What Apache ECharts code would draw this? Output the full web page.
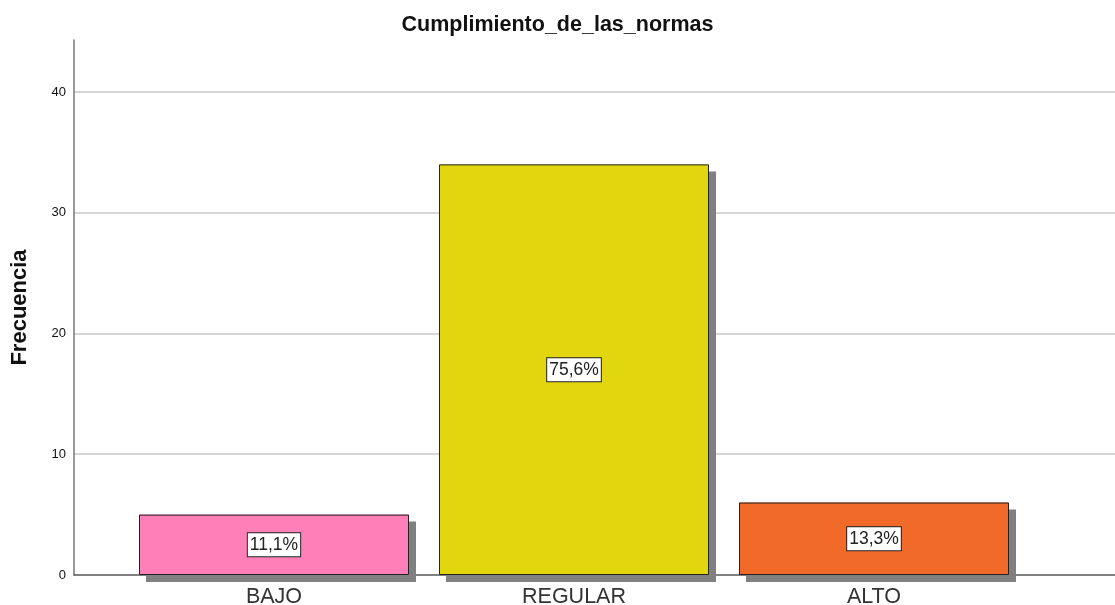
<!DOCTYPE html>
<html>
<head>
<meta charset="utf-8">
<script src="https://cdn.jsdelivr.net/npm/echarts@6/dist/echarts.min.js"></script>
<style>
  html, body { margin: 0; padding: 0; background: #fff; }
  #chart { width: 1115px; height: 605px; }
</style>
</head>
<body>
<div id="chart"></div>
<script>
// categories and values
const categories = ['BAJO', 'REGULAR', 'ALTO']
const frecuencia = [5, 34, 6]
const porcentajes = ['11,1%', '75,6%', '13,3%']
const barColors = ['#ff80b8', '#e2d60e', '#f26a2a']

const font = 'Liberation Sans, Arial'
const yTop = 44.3
const chart = echarts.init(document.getElementById('chart'))

chart.setOption({
  animation: false,
  title: {
    text: 'Cumplimiento_de_las_normas',
    left: 'center',
    top: 9,
    textStyle: { fontFamily: font, fontWeight: 'bold', fontSize: 21.5, color: '#111' }
  },
  grid: [
    // frame: axis lines only
    { left: 74, right: 0, top: 40, bottom: 30, outerBoundsMode: 'none', containLabel: false },
    // gridlines + tick labels, top aligned with value 40
    { left: 74, right: 0, top: 575 - 535 * 40 / yTop, bottom: 30, outerBoundsMode: 'none', containLabel: false },
    // bars
    { left: 124, right: 91, top: 40, bottom: 30, outerBoundsMode: 'none', containLabel: false }
  ],
  xAxis: [{
    gridIndex: 0,
    type: 'value', min: 0, max: 1,
    axisLine: { show: true, onZero: false, lineStyle: { color: '#666', width: 1.5 } },
    axisTick: { show: false }, axisLabel: { show: false }, splitLine: { show: false }
  }, {
    gridIndex: 1,
    type: 'value', min: 0, max: 1, show: false
  }, {
    gridIndex: 2,
    type: 'category',
    data: categories,
    axisLine: { show: false },
    axisTick: { show: false },
    axisLabel: { margin: 11, fontFamily: font, fontSize: 21.5, color: '#333' }
  }],
  yAxis: [{
    gridIndex: 0,
    type: 'value', min: 0, max: yTop,
    name: 'Frecuencia',
    nameLocation: 'middle',
    nameGap: 43,
    nameTextStyle: { fontFamily: font, fontWeight: 'bold', fontSize: 22, color: '#111' },
    axisLine: { show: true, onZero: false, lineStyle: { color: '#777', width: 1.5 } },
    axisTick: { show: false }, axisLabel: { show: false }, splitLine: { show: false }
  }, {
    gridIndex: 1,
    type: 'value', min: 0, max: 40, interval: 10,
    axisLine: { show: false },
    axisTick: { show: false },
    axisLabel: { margin: 8, fontFamily: font, fontSize: 13, color: '#111' },
    splitLine: { show: true, lineStyle: { color: '#c8c8c8', width: 1.5 } }
  }, {
    gridIndex: 2,
    type: 'value', min: 0, max: yTop, show: false
  }],
  series: [{
    // filled bars with drop shadow
    type: 'bar',
    xAxisIndex: 2,
    yAxisIndex: 2,
    barWidth: '90%',
    data: frecuencia.map((v, i) => ({ value: v, itemStyle: { color: barColors[i] } })),
    itemStyle: {
      shadowColor: '#808080',
      shadowBlur: 0,
      shadowOffsetX: 7,
      shadowOffsetY: 7
    }
  }, {
    // outline + percent labels on top
    type: 'bar',
    xAxisIndex: 2,
    yAxisIndex: 2,
    barWidth: '90%',
    barGap: '-100%',
    data: frecuencia.map((v, i) => ({ value: v, label: { formatter: porcentajes[i] } })),
    itemStyle: { color: 'rgba(0,0,0,0)', borderColor: '#222', borderWidth: 1 },
    label: {
      show: true,
      position: 'inside',
      fontFamily: font,
      fontSize: 17.5,
      color: '#222',
      backgroundColor: '#fff',
      borderColor: '#222',
      borderWidth: 1,
      padding: [3, 2, 2, 2]
    }
  }]
})
</script>
</body>
</html>
